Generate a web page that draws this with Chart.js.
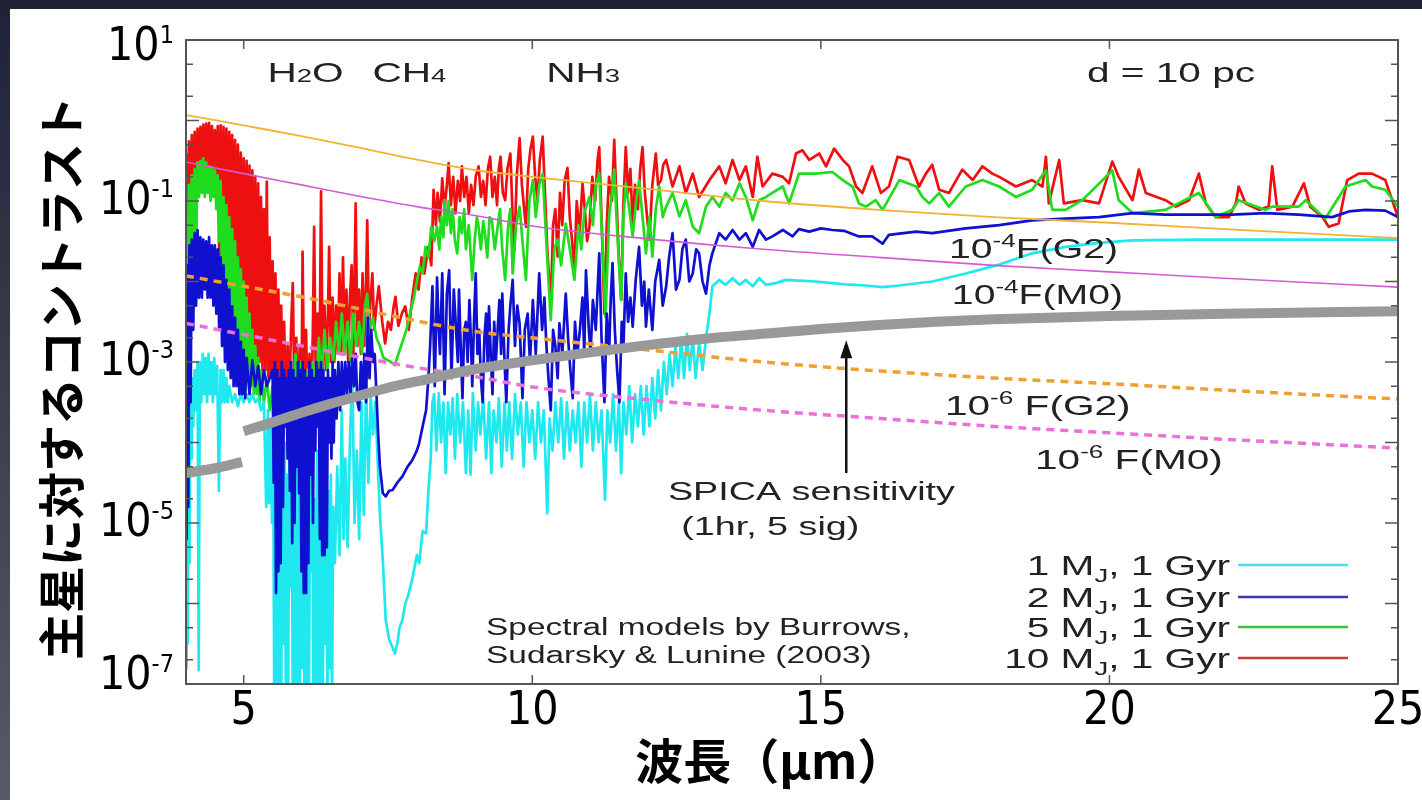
<!DOCTYPE html>
<html><head><meta charset="utf-8">
<script src="https://cdn.jsdelivr.net/npm/chart.js@4.4.0/dist/chart.umd.min.js"></script>
<style>
html,body{margin:0;padding:0;width:1422px;height:800px;overflow:hidden;background:linear-gradient(to bottom,#1f2235,#585a68);}
#panel{position:absolute;left:10px;top:9px;width:1412px;height:791px;background:#fff;}
#c{position:absolute;left:0;top:0;}
</style></head><body>
<div id="panel"></div>
<canvas id="c" width="1422" height="800"></canvas>
<script>
// ---------------- DATA (wavelength in µm, contrast stored as log10) ----------------
const xTickValues = [5, 10, 15, 20, 25];
const yLabelExponents = [1, -1, -3, -5, -7];
const yTickMantissas = [1, 2, 5];

const starWave = [4, 5, 6, 7, 8, 9, 10, 12, 14, 16, 18, 20, 22, 25];
const g2e4Log = [0.068, -0.061, -0.193, -0.337, -0.487, -0.615, -0.70, -0.85, -1.00, -1.11, -1.20, -1.27, -1.35, -1.46];
const m0e4Log = [-0.516, -0.66, -0.80, -0.94, -1.07, -1.18, -1.31, -1.47, -1.60, -1.70, -1.80, -1.88, -1.96, -2.07];
const g2e6Log = [-1.93, -2.06, -2.19, -2.34, -2.49, -2.62, -2.70, -2.85, -3.00, -3.11, -3.20, -3.27, -3.35, -3.46];
const m0e6Log = [-2.52, -2.66, -2.80, -2.94, -3.07, -3.18, -3.31, -3.47, -3.60, -3.70, -3.80, -3.88, -3.96, -4.07];

const spicaWaveA = [4.0, 4.5, 4.97];
const spicaLogA = [-4.38, -4.32, -4.24];
const spicaWaveB = [5.0, 5.5, 6, 6.5, 7, 7.5, 8, 9, 10, 11, 12, 13, 14, 15, 16, 17, 18, 20, 22, 25];
const spicaLogB = [-3.86, -3.75, -3.63, -3.52, -3.42, -3.32, -3.24, -3.09, -2.98, -2.88, -2.79, -2.71, -2.65, -2.59, -2.54, -2.50, -2.47, -2.43, -2.40, -2.37];

// 10 MJ, 1 Gyr  [wavelength, log10 contrast]
const spec10MJ = [[4.000,-0.41],[4.025,-1.5],[4.050,-0.26],[4.075,-1.4],[4.100,-0.18],[4.125,-1.6],[4.150,-0.14],[4.175,-1.3],[4.200,-0.10],[4.225,-0.8],[4.250,-0.08],[4.275,-0.75],[4.300,-0.05],[4.325,-0.8],[4.350,-0.04],[4.375,-0.7],[4.400,-0.03],[4.425,-0.8],[4.450,-0.07],[4.475,-0.85],[4.500,-0.12],[4.525,-0.8],[4.550,-0.07],[4.575,-1.7],[4.600,-0.06],[4.625,-1.8],[4.650,-0.08],[4.675,-1.9],[4.700,-0.10],[4.725,-2.0],[4.750,-0.14],[4.775,-2.1],[4.800,-0.18],[4.825,-2.2],[4.850,-0.24],[4.875,-2.3],[4.900,-0.30],[4.925,-2.4],[4.950,-0.40],[4.975,-2.5],[5.000,-0.47],[5.025,-2.6],[5.050,-0.50],[5.075,-2.7],[5.100,-0.56],[5.125,-2.8],[5.150,-0.62],[5.175,-2.9],[5.200,-0.70],[5.225,-3.0],[5.250,-0.78],[5.275,-3.0],[5.300,-0.95],[5.325,-3.1],[5.350,-1.1],[5.375,-3.1],[5.400,-0.76],[5.425,-3.2],[5.450,-1.45],[5.475,-3.2],[5.500,-1.75],[5.525,-3.3],[5.550,-1.9],[5.575,-3.3],[5.600,-2.1],[5.625,-3.4],[5.650,-2.3],[5.675,-3.4],[5.700,-2.5],
[5.73,-3.5],[5.76,-2.8],[5.79,-3.4],[5.82,-2.6],[5.85,-2.02],[5.88,-3.5],[5.91,-2.7],[5.94,-3.6],[5.97,-2.8],[6.00,-3.6],[6.02,-1.63],[6.05,-3.6],[6.08,-2.6],[6.11,-3.7],[6.14,-2.9],[6.17,-3.8],[6.20,-2.5],[6.22,-1.32],[6.25,-3.4],[6.28,-2.4],[6.31,-3.3],[6.34,-0.88],[6.37,-3.2],[6.40,-2.3],[6.43,-3.1],[6.46,-2.4],[6.48,-1.57],[6.51,-3.0],[6.54,-2.2],[6.57,-3.0],[6.60,-2.3],[6.63,-2.9],[6.66,-1.9],[6.69,-2.9],[6.72,-1.7],[6.75,-2.9],[6.78,-2.1],[6.81,-3.0],[6.84,-2.2],[6.87,-1.8],[6.90,-2.9],[6.94,-1.03],[6.97,-2.8],[7.00,-2.1],[7.03,-2.9],[7.06,-1.9],[7.09,-2.8],[7.12,-2.0],[7.14,-1.24],[7.17,-2.6],[7.20,-2.2],[7.23,-1.9],[7.26,-2.6],[7.30,-2.3],[7.34,-2.06],[7.40,-2.5],[7.45,-2.77],[7.50,-2.5],[7.55,-2.6],[7.60,-2.3],[7.63,-2.19],[7.68,-2.55],[7.74,-2.4],[7.80,-2.31],[7.86,-2.6],[7.92,-2.2],[7.98,-1.9],[8.03,-2.1],[8.08,-1.7],[8.13,-1.9],
[8.20,-1.57],[8.25,-1.8],[8.29,-0.86],[8.33,-1.3],[8.36,-0.9],[8.40,-1.25],[8.44,-0.72],[8.48,-1.1],[8.52,-0.8],[8.55,-0.53],[8.59,-1.05],[8.63,-0.7],[8.67,-1.15],[8.71,-0.75],[8.75,-1.0],[8.78,-0.57],[8.82,-0.95],[8.86,-0.7],[8.90,-1.15],[8.94,-0.8],[8.98,-1.05],[9.02,-0.7],[9.07,-0.57],[9.11,-0.95],[9.15,-0.75],[9.19,-1.05],[9.23,-0.6],[9.27,-0.45],[9.31,-0.95],[9.35,-0.7],[9.39,-1.05],[9.42,-0.6],[9.45,-0.45],[9.49,-0.9],[9.53,-0.99],[9.57,-0.6],[9.62,-0.41],[9.66,-1.2],[9.69,-1.61],[9.73,-0.7],[9.78,-0.22],[9.82,-0.8],[9.86,-1.1],[9.89,-1.32],[9.93,-0.6],[9.97,-0.35],[10.01,-0.2],[10.05,-0.7],[10.09,-0.99],[10.13,-0.5],[10.18,-0.2],[10.22,-0.9],[10.26,-1.6],[10.32,-2.31],[10.36,-1.3],[10.40,-1.1],[10.44,-1.69],[10.48,-0.9],[10.52,-1.3],[10.56,-0.75],[10.61,-0.59],[10.65,-1.2],[10.69,-1.5],[10.73,-1.86],[10.77,-1.0],[10.82,-1.4],[10.87,-0.78],[10.91,-1.1],[10.95,-1.5],[10.99,-1.32],[11.04,-0.7],[11.09,-1.0],[11.13,-0.5],[11.16,-0.33],[11.20,-1.2],[11.25,-2.4],[11.29,-1.3],[11.33,-0.7],[11.38,-1.0],[11.42,-0.24],[11.46,-1.0],[11.50,-1.7],[11.54,-2.23],[11.58,-1.0],[11.62,-0.33],[11.66,-0.9],[11.70,-0.6],[11.74,-1.32],[11.78,-0.8],[11.83,-1.1],[11.87,-0.6],[11.91,-0.33],[11.95,-0.9],[11.99,-1.2],[12.03,-1.48],[12.08,-0.8],[12.14,-0.41],[12.18,-0.8],[12.23,-0.74],[12.27,-0.55],[12.32,-0.49],
[12.43,-0.82],[12.55,-0.57],[12.66,-0.9],[12.78,-0.66],[12.89,-0.95],[13.07,-0.74],[13.24,-0.57],[13.35,-0.78],[13.47,-0.49],[13.59,-0.74],[13.70,-0.57],[13.82,-0.95],[13.90,-0.45],[13.99,-0.82],[14.16,-0.66],[14.34,-0.70],[14.45,-0.78],[14.57,-0.41],[14.68,-0.37],[14.80,-0.49],[14.97,-0.41],[15.09,-0.57],[15.23,-0.35],[15.38,-0.49],[15.49,-0.57],[15.61,-0.82],[15.72,-0.90],[15.89,-0.57],[16.04,-0.90],[16.18,-0.82],[16.33,-0.45],[16.53,-0.49],[16.70,-0.82],[16.82,-0.66],[16.93,-0.55],[17.05,-0.86],[17.22,-0.90],[17.45,-0.61],[17.63,-0.74],[17.80,-0.57],[17.97,-0.66],[18.09,-0.70],[18.38,-0.82],[18.66,-0.74],[18.84,-0.82],[18.90,-0.45],[18.95,-1.03],[19.13,-0.49],[19.21,-1.03],[19.53,-0.99],[19.82,-1.03],[20.05,-0.51],[20.16,-0.70],[20.40,-0.99],[20.51,-0.61],[20.63,-0.90],[20.97,-0.99],[21.15,-1.07],[21.38,-0.99],[21.55,-0.66],[21.67,-1.03],[21.84,-1.20],[22.07,-1.20],[22.19,-1.03],[22.24,-0.82],[22.36,-1.03],[22.59,-1.11],[22.76,-1.07],[22.82,-0.57],[22.91,-1.11],[23.17,-1.07],[23.37,-0.78],[23.48,-1.07],[23.69,-1.20],[23.80,-1.32],[23.97,-1.28],[24.12,-0.74],[24.32,-0.66],[24.55,-0.66],[24.78,-0.74],[24.90,-0.99],[25.00,-1.20]];

// 5 MJ, 1 Gyr
const spec5MJ = [[4.000,-1.15],[4.025,-1.9],[4.050,-0.80],[4.075,-1.9],[4.100,-0.68],[4.125,-1.8],[4.150,-0.60],[4.175,-1.6],[4.200,-0.52],[4.225,-0.95],[4.250,-0.50],[4.275,-0.9],[4.300,-0.47],[4.325,-0.95],[4.350,-0.52],[4.375,-0.9],[4.400,-0.57],[4.425,-1.0],[4.450,-0.58],[4.475,-0.95],[4.500,-0.62],[4.525,-1.1],[4.550,-0.68],[4.575,-1.5],[4.600,-0.75],[4.625,-2.0],[4.650,-0.95],[4.675,-2.3],[4.700,-1.05],[4.725,-2.5],[4.750,-1.2],[4.775,-2.6],[4.800,-1.35],[4.825,-2.7],[4.850,-1.5],[4.875,-2.8],[4.900,-1.7],[4.925,-2.9],[4.950,-1.85],[4.975,-3.0],[5.000,-2.0],[5.025,-3.1],[5.050,-2.2],[5.075,-3.2],[5.100,-2.4],[5.125,-3.3],[5.150,-2.6],[5.175,-3.4],[5.200,-2.8],[5.225,-3.4],[5.250,-2.95],[5.275,-3.5],[5.300,-3.1],
[5.35,-3.5],[5.40,-3.2],[5.45,-3.6],[5.50,-3.3],[5.55,-3.8],[5.60,-3.2],[5.65,-3.6],[5.70,-3.3],[5.75,-3.7],[5.80,-3.1],[5.85,-3.5],[5.90,-2.9],[5.95,-3.6],[6.00,-3.0],[6.05,-3.7],[6.10,-3.1],[6.15,-4.2],[6.20,-3.0],[6.25,-3.4],[6.30,-2.7],[6.35,-3.2],[6.40,-2.6],[6.45,-3.1],[6.50,-2.7],[6.55,-3.0],[6.60,-2.5],[6.65,-2.9],[6.70,-2.4],[6.75,-2.9],[6.80,-2.5],[6.85,-3.0],[6.90,-2.4],[6.95,-2.8],[7.00,-2.5],[7.05,-2.9],[7.10,-2.3],[7.14,-2.15],[7.18,-2.6],[7.24,-2.45],[7.30,-2.7],[7.36,-2.8],[7.42,-2.95],[7.48,-2.97],[7.55,-3.0],[7.62,-3.04],[7.68,-2.9],[7.75,-2.75],[7.82,-2.6],[7.88,-2.4],[7.95,-2.2],[8.00,-2.0],[8.05,-1.82],[8.10,-1.9],
[8.15,-1.57],[8.20,-1.7],[8.25,-1.32],[8.30,-1.5],[8.35,-1.32],[8.39,-1.6],[8.42,-1.2],[8.46,-1.45],[8.48,-0.99],[8.52,-1.3],[8.55,-1.0],[8.59,-1.4],[8.62,-1.1],[8.66,-1.5],[8.70,-1.65],[8.74,-1.2],[8.78,-1.4],[8.82,-1.1],[8.85,-1.6],[8.90,-1.3],[8.96,-1.98],[9.00,-1.5],[9.04,-1.2],[9.07,-1.32],[9.11,-1.6],[9.15,-1.25],[9.18,-1.4],[9.22,-1.7],[9.26,-1.2],[9.30,-1.24],[9.35,-1.6],[9.40,-1.32],[9.44,-1.1],[9.48,-1.6],[9.53,-1.98],[9.58,-1.32],[9.62,-1.1],[9.66,-1.9],[9.72,-1.3],[9.78,-1.07],[9.83,-1.5],[9.89,-1.98],[9.95,-1.0],[10.01,-0.74],[10.06,-1.2],[10.12,-0.8],[10.18,-0.66],[10.25,-1.6],[10.32,-2.48],[10.38,-1.6],[10.44,-1.48],[10.50,-1.8],[10.58,-1.28],[10.65,-1.6],[10.73,-1.98],[10.80,-1.3],[10.85,-1.6],[10.90,-1.15],[10.99,-0.95],[11.05,-1.3],[11.10,-0.8],[11.16,-0.66],[11.22,-1.6],[11.27,-2.44],[11.33,-1.2],[11.38,-0.9],[11.42,-0.61],[11.48,-1.5],[11.54,-2.23],[11.58,-1.2],[11.62,-0.78],[11.68,-1.1],[11.74,-1.44],[11.80,-1.0],[11.85,-0.74],[11.91,-1.2],[11.97,-1.65],[12.03,-1.2],[12.08,-1.69],[12.14,-1.1],[12.20,-0.82],[12.26,-1.2],[12.32,-1.07],
[12.43,-0.90],[12.55,-1.19],[12.66,-0.99],[12.78,-1.32],[12.89,-1.40],[13.01,-1.07],[13.12,-0.95],[13.24,-1.07],[13.35,-0.90],[13.47,-0.99],[13.59,-0.78],[13.70,-0.95],[13.82,-1.24],[13.93,-0.99],[14.05,-0.95],[14.16,-0.90],[14.34,-0.82],[14.45,-1.03],[14.51,-0.90],[14.62,-0.66],[14.91,-0.66],[15.20,-0.64],[15.38,-0.74],[15.55,-0.82],[15.66,-1.03],[15.78,-1.07],[15.95,-0.99],[16.07,-1.11],[16.36,-0.74],[16.65,-0.82],[16.76,-0.95],[16.88,-1.03],[17.05,-0.90],[17.22,-1.07],[17.51,-0.82],[17.80,-0.74],[18.09,-0.82],[18.38,-0.95],[18.66,-0.86],[18.90,-0.62],[19.01,-1.11],[19.24,-1.11],[19.53,-0.99],[20.05,-0.62],[20.16,-0.99],[20.40,-1.15],[20.97,-1.11],[21.55,-0.90],[21.84,-1.20],[22.13,-1.11],[22.24,-0.99],[22.70,-1.11],[22.82,-1.07],[23.28,-1.07],[23.40,-0.99],[23.74,-1.22],[24.09,-0.82],[24.44,-0.74],[24.55,-0.82],[24.78,-0.86],[25.00,-1.07]];

// 2 MJ, 1 Gyr
const spec2MJ = [[4.000,-2.0],[4.010,-5.2],[4.025,-1.8],[4.040,-4.8],[4.060,-1.55],[4.080,-3.5],[4.100,-1.48],[4.125,-2.6],[4.150,-1.40],[4.175,-2.3],[4.200,-1.36],[4.225,-2.2],[4.250,-1.45],[4.275,-2.2],[4.300,-1.48],[4.325,-2.1],[4.350,-1.50],[4.375,-2.2],[4.400,-1.45],[4.425,-2.2],[4.450,-1.55],[4.475,-2.3],[4.500,-1.55],[4.525,-2.4],[4.550,-1.60],[4.575,-2.6],[4.600,-1.70],[4.625,-2.8],[4.650,-1.80],[4.675,-3.0],[4.700,-1.98],[4.725,-3.1],[4.750,-2.10],[4.775,-3.2],[4.800,-2.31],[4.825,-3.3],[4.850,-2.45],[4.875,-3.3],[4.900,-2.60],[4.925,-3.4],[4.950,-2.75],[4.975,-3.4],[5.000,-2.85],[5.025,-3.45],[5.050,-2.95],[5.100,-3.4],[5.150,-2.98],[5.200,-3.3],[5.250,-3.05],[5.300,-3.4],[5.350,-3.1],[5.400,-3.3],[5.450,-3.2],
[5.50,-3.1],[5.52,-4.5],[5.54,-3.0],[5.56,-5.87],[5.58,-3.1],[5.60,-5.6],[5.62,-3.2],[5.64,-5.5],[5.66,-3.0],[5.68,-4.8],[5.70,-3.1],[5.72,-3.8],[5.74,-3.2],[5.76,-4.2],[5.78,-3.1],[5.80,-4.6],[5.82,-3.0],[5.84,-5.25],[5.86,-3.1],[5.88,-5.0],[5.90,-3.2],[5.92,-4.3],[5.94,-3.0],[5.96,-4.63],[5.98,-3.1],[6.00,-5.6],[6.02,-3.0],[6.04,-5.87],[6.06,-3.1],[6.08,-5.87],[6.10,-3.2],[6.12,-5.5],[6.14,-3.0],[6.16,-4.4],[6.18,-3.1],[6.20,-5.0],[6.22,-3.2],[6.24,-4.1],[6.26,-3.0],[6.28,-3.8],[6.30,-3.1],[6.32,-5.2],[6.34,-3.0],[6.36,-5.4],[6.38,-3.1],[6.40,-5.4],[6.42,-3.2],[6.44,-5.3],[6.46,-3.1],[6.48,-4.0],[6.50,-3.2],[6.52,-4.2],[6.54,-3.0],[6.56,-4.0],[6.58,-3.1],[6.61,-3.7],[6.64,-3.0],[6.67,-3.6],[6.70,-3.0],[6.73,-3.5],[6.76,-3.0],[6.79,-3.4],[6.82,-3.0],[6.85,-3.4],[6.88,-2.95],[6.91,-3.3],[6.94,-2.9],[6.97,-3.5],[7.00,-3.6],[7.03,-3.0],[7.06,-3.4],[7.09,-2.9],[7.12,-3.5],[7.15,-2.45],[7.18,-3.2],[7.21,-2.6],[7.24,-3.0],[7.27,-2.9],[7.30,-3.4],[7.33,-3.9],[7.36,-4.3],[7.41,-4.63],[7.46,-4.67],[7.52,-4.60],[7.58,-4.59],[7.66,-4.50],[7.75,-4.42],[7.84,-4.30],[7.92,-4.22],[8.00,-4.10],[8.04,-4.01],[8.10,-3.80],[8.16,-3.60],[8.20,-3.20],[8.23,-2.80],
[8.27,-2.06],[8.31,-3.3],[8.35,-1.95],[8.38,-2.6],[8.40,-2.9],[8.44,-1.9],[8.48,-3.4],[8.52,-2.15],[8.56,-1.86],[8.60,-3.2],[8.64,-2.1],[8.68,-2.6],[8.71,-3.0],[8.73,-2.1],[8.76,-2.8],[8.79,-3.45],[8.82,-2.6],[8.85,-2.5],[8.88,-3.0],[8.91,-2.23],[8.94,-2.8],[8.96,-3.3],[8.99,-2.5],[9.02,-1.9],[9.05,-2.9],[9.08,-2.6],[9.11,-3.2],[9.14,-3.5],[9.17,-2.7],[9.20,-2.4],[9.23,-3.1],[9.25,-2.31],[9.28,-2.9],[9.31,-3.4],[9.34,-2.5],[9.37,-2.97],[9.40,-2.6],[9.43,-2.23],[9.46,-2.9],[9.48,-2.15],[9.52,-3.0],[9.55,-3.5],[9.59,-2.6],[9.62,-2.3],[9.66,-1.98],[9.70,-2.8],[9.74,-2.3],[9.78,-2.52],[9.83,-3.45],[9.87,-2.6],[9.92,-2.4],[9.96,-3.0],[10.01,-2.23],[10.06,-2.9],[10.12,-1.9],[10.17,-2.6],[10.21,-2.2],[10.24,-2.73],[10.28,-3.2],[10.32,-3.6],[10.36,-2.6],[10.40,-2.8],[10.44,-3.2],[10.47,-2.52],[10.52,-2.9],[10.58,-2.15],[10.62,-2.7],[10.66,-3.1],[10.70,-3.45],[10.74,-2.5],[10.78,-2.9],[10.82,-2.64],[10.87,-2.2],[10.90,-2.9],[10.93,-1.86],[10.98,-2.6],[11.01,-2.9],[11.05,-2.23],[11.10,-2.6],[11.16,-1.65],[11.20,-2.7],[11.25,-3.5],[11.29,-2.4],[11.33,-2.9],[11.36,-2.2],[11.39,-1.77],[11.43,-2.6],[11.47,-3.1],[11.51,-3.5],[11.55,-2.5],[11.58,-2.8],[11.62,-1.9],[11.66,-2.5],[11.70,-2.2],[11.74,-2.56],[11.79,-2.0],[11.85,-1.57],[11.90,-2.3],[11.94,-2.0],[11.97,-2.56],[12.02,-2.1],[12.08,-2.6],[12.13,-2.0],[12.20,-1.73],[12.26,-2.3],[12.32,-2.06],[12.37,-1.7],[12.43,-1.4],[12.49,-2.1],[12.55,-1.98],[12.60,-1.6],[12.66,-1.48],[12.72,-2.0],[12.78,-1.9],[12.84,-1.6],[12.89,-1.65],[12.95,-2.0],[13.01,-2.15],[13.07,-1.8],[13.12,-1.65],
[13.24,-1.40],[13.35,-1.48],[13.47,-1.36],[13.59,-1.48],[13.70,-1.40],[13.82,-1.57],[13.93,-1.36],[14.05,-1.48],[14.16,-1.44],[14.34,-1.36],[14.51,-1.44],[14.62,-1.35],[14.80,-1.38],[15.00,-1.34],[15.20,-1.36],[15.40,-1.37],[15.66,-1.44],[15.89,-1.44],[16.07,-1.53],[16.18,-1.42],[16.65,-1.38],[16.93,-1.40],[17.51,-1.34],[18.09,-1.30],[18.66,-1.24],[19.24,-1.22],[19.82,-1.20],[20.40,-1.15],[20.97,-1.17],[21.55,-1.17],[22.13,-1.17],[22.70,-1.15],[23.28,-1.17],[23.86,-1.20],[24.15,-1.13],[24.44,-1.11],[24.78,-1.12],[25.00,-1.20]];

// 1 MJ, 1 Gyr
const spec1MJ = [[4.000,-3.4],[4.010,-6.8],[4.020,-3.3],[4.030,-6.5],[4.045,-3.3],[4.060,-5.5],[4.075,-3.3],[4.090,-4.2],[4.100,-3.2],[4.125,-3.8],[4.150,-3.1],[4.175,-3.6],[4.200,-3.0],[4.220,-6.83],[4.240,-3.0],[4.265,-3.5],[4.290,-2.9],[4.315,-3.4],[4.340,-2.95],[4.365,-3.5],[4.390,-2.9],[4.415,-3.4],[4.440,-3.0],[4.465,-3.5],[4.490,-2.95],[4.515,-3.4],[4.540,-3.05],[4.570,-4.6],[4.600,-3.1],[4.625,-3.5],[4.650,-3.1],[4.675,-3.5],[4.700,-3.2],[4.725,-3.5],[4.750,-3.3],[4.800,-3.5],[4.850,-3.4],[4.900,-3.55],[4.950,-3.4],[5.000,-3.5],[5.050,-3.4],[5.100,-3.5],[5.150,-3.4],[5.200,-3.5],[5.250,-3.45],[5.300,-3.6],[5.350,-3.5],[5.390,-4.8],[5.420,-3.6],[5.440,-4.75],[5.470,-3.8],
[5.49,-5.0],[5.51,-3.9],[5.53,-7.3],[5.55,-4.2],[5.57,-7.3],[5.59,-3.8],[5.61,-7.3],[5.63,-4.5],[5.65,-7.3],[5.67,-3.72],[5.69,-6.5],[5.71,-4.0],[5.73,-7.3],[5.75,-4.4],[5.77,-7.3],[5.79,-4.1],[5.81,-5.8],[5.83,-3.9],[5.85,-7.3],[5.87,-4.8],[5.89,-7.3],[5.91,-4.0],[5.93,-7.3],[5.95,-4.5],[5.97,-7.3],[5.99,-3.95],[6.01,-6.8],[6.03,-4.3],[6.05,-7.3],[6.07,-4.6],[6.09,-7.3],[6.11,-4.0],[6.13,-7.3],[6.15,-4.4],[6.17,-5.6],[6.19,-4.0],[6.21,-7.3],[6.23,-4.7],[6.25,-7.3],[6.27,-4.1],[6.29,-7.0],[6.31,-4.5],[6.33,-7.3],[6.35,-4.8],[6.37,-7.3],[6.39,-4.2],[6.41,-6.5],[6.43,-4.3],[6.45,-7.3],[6.47,-4.6],[6.49,-6.8],[6.51,-4.4],[6.53,-7.3],[6.55,-4.8],[6.58,-5.5],[6.62,-4.3],[6.66,-5.4],[6.70,-3.6],[6.73,-5.2],[6.76,-4.2],[6.80,-5.3],[6.84,-4.0],[6.88,-3.06],[6.92,-5.0],[6.96,-4.1],[7.00,-5.2],[7.04,-3.5],[7.08,-4.9],[7.12,-3.27],[7.16,-4.5],[7.20,-3.4],[7.24,-3.9],[7.28,-3.5],[7.32,-4.2],[7.36,-4.9],[7.41,-5.46],[7.46,-6.2],[7.52,-6.45],[7.57,-6.53],[7.62,-6.62],[7.66,-6.5],[7.70,-6.3],[7.75,-6.2],[7.80,-6.0],[7.85,-5.9],[7.92,-5.7],[8.00,-5.4],[8.04,-5.5],[8.10,-5.1],[8.16,-5.13],[8.20,-4.6],[8.24,-4.2],[8.27,-3.5],
[8.30,-3.4],[8.34,-4.1],[8.38,-3.39],[8.42,-4.0],[8.46,-3.5],[8.50,-4.38],[8.54,-3.5],[8.58,-3.9],[8.62,-3.45],[8.66,-4.2],[8.70,-3.4],[8.75,-4.0],[8.80,-3.5],[8.85,-4.38],[8.89,-3.6],[8.93,-4.4],[8.97,-3.39],[9.02,-4.1],[9.06,-3.5],[9.10,-3.9],[9.15,-3.45],[9.20,-4.2],[9.25,-3.5],[9.29,-4.38],[9.33,-3.6],[9.38,-4.0],[9.42,-3.45],[9.47,-4.3],[9.52,-3.5],[9.56,-4.1],[9.60,-3.5],[9.65,-4.2],[9.70,-3.4],[9.75,-3.9],[9.80,-3.5],[9.85,-4.3],[9.90,-3.5],[9.95,-4.0],[10.00,-3.6],[10.05,-4.2],[10.10,-3.5],[10.15,-4.0],[10.20,-3.6],[10.26,-4.88],[10.30,-3.7],[10.35,-4.1],[10.40,-3.5],[10.45,-4.0],[10.50,-3.45],[10.55,-4.2],[10.60,-3.5],[10.65,-4.1],[10.70,-3.6],[10.75,-4.0],[10.80,-3.5],[10.85,-4.3],[10.90,-3.5],[10.95,-4.0],[11.00,-3.4],[11.05,-4.1],[11.10,-3.5],[11.15,-4.0],[11.20,-3.6],[11.26,-4.71],[11.30,-3.6],[11.35,-4.0],[11.40,-3.4],[11.45,-4.1],[11.50,-3.5],[11.54,-4.38],[11.58,-3.5],[11.63,-3.9],[11.68,-3.3],[11.73,-4.0],[11.78,-3.4],[11.83,-3.8],[11.88,-3.3],[11.93,-3.9],[11.98,-3.3],[12.03,-3.8],[12.08,-3.2],[12.13,-3.7],[12.18,-3.1],[12.23,-3.6],[12.28,-3.0],[12.33,-3.4],[12.38,-2.9],[12.43,-3.3],[12.48,-2.8],[12.53,-3.2],[12.58,-2.7],[12.63,-3.2],[12.68,-2.65],[12.73,-3.1],[12.78,-2.7],[12.83,-3.2],[12.89,-2.75],[12.95,-3.1],[13.01,-2.7],[13.07,-2.4],[13.12,-2.06],[13.24,-1.98],[13.35,-2.04],[13.47,-1.96],[13.59,-2.04],[13.70,-1.98],[13.82,-2.06],[13.93,-1.96],[14.05,-2.04],[14.22,-2.02],[14.39,-1.98],[14.62,-1.99],[14.91,-2.00],[15.20,-2.02],[15.49,-2.04],[15.78,-2.05],[16.07,-2.07],[16.36,-2.05],[16.93,-2.0],[17.51,-1.9],[18.09,-1.79],[18.66,-1.65],[19.24,-1.57],[19.82,-1.52],[20.40,-1.49],[21.55,-1.48],[23.28,-1.48],[25.00,-1.48]];

const seriesLabels = ['1', '2', '5', '10'];
const seriesColors = ['#1fe9ef', '#1010d0', '#1fdc1f', '#ee1010'];
const legendColors = ['#4fdde6', '#3a3ab0', '#3cc43c', '#cc3a3a'];

// ---------------- helpers ----------------
const pairsToPts = p => p.map(([x, v]) => ({x: x, y: Math.pow(10, v)}));
const colsToPts = (xs, vs) => xs.map((x, i) => ({x: x, y: Math.pow(10, vs[i])}));

const FONT_PLOT = '"Liberation Sans", Arial, sans-serif';
const FONT_SLIDE = '"Liberation Sans Narrow", "DejaVu Sans Condensed", sans-serif';
const STRETCH = 1.45;

function drawRich(ctx, x, y, parts, align, sx, family, color) {
  ctx.save();
  ctx.translate(x, y);
  ctx.scale(sx, 1);
  ctx.fillStyle = color;
  ctx.textAlign = 'left';
  ctx.textBaseline = 'alphabetic';
  let total = 0;
  for (const p of parts) { ctx.font = p[1] + 'px ' + family; total += ctx.measureText(p[0]).width; }
  let cx = align === 'right' ? -total : (align === 'center' ? -total / 2 : 0);
  for (const p of parts) {
    ctx.font = p[1] + 'px ' + family;
    ctx.fillText(p[0], cx, p[2] || 0);
    cx += ctx.measureText(p[0]).width;
  }
  ctx.restore();
}

// annotation anchors (x in µm, y as log10 contrast) — left edge / baseline
const notes = [
  {x: 5.41, y: 0.478, parts: [['H', 28], ['2', 19], ['O', 28]]},
  {x: 7.23, y: 0.478, parts: [['CH', 28], ['4', 19]]},
  {x: 10.24, y: 0.478, parts: [['NH', 28], ['3', 19]]},
  {x: 19.61, y: 0.478, parts: [['d = 10 pc', 28]]},
  {x: 17.22, y: -1.708, parts: [['10', 27], ['-4', 18, -11], ['F(G2)', 27]]},
  {x: 17.27, y: -2.28, parts: [['10', 27], ['-4', 18, -11], ['F(M0)', 27]]},
  {x: 17.15, y: -3.66, parts: [['10', 28], ['-6', 18, -11], [' F(G2)', 28]]},
  {x: 18.71, y: -4.33, parts: [['10', 28], ['-6', 18, -11], [' F(M0)', 28]]},
  {x: 12.35, y: -4.71, parts: [['SPICA sensitivity', 26]]},
  {x: 12.58, y: -5.15, parts: [['(1hr, 5 sig)', 26]]},
  {x: 9.20, y: -6.39, parts: [['Spectral models by Burrows,', 23]]},
  {x: 9.20, y: -6.74, parts: [['Sudarsky & Lunine (2003)', 23]]}
];
const arrowNote = {x: 15.44, from: -4.38, to: -2.73};

const decor = {
  id: 'decor',
  afterDatasetsDraw(chart) {
    const ctx = chart.ctx, ca = chart.chartArea, xs = chart.scales.x, ys = chart.scales.y;
    ctx.save();
    ctx.strokeStyle = '#555';
    ctx.lineWidth = 2;
    ctx.strokeRect(ca.left, ca.top, ca.right - ca.left, ca.bottom - ca.top);
    ctx.lineWidth = 1.5;
    ctx.beginPath();
    for (const v of xTickValues) {
      const px = xs.getPixelForValue(v);
      if (px >= ca.right - 1) continue;
      ctx.moveTo(px, ca.bottom); ctx.lineTo(px, ca.bottom - 9);
      ctx.moveTo(px, ca.top); ctx.lineTo(px, ca.top + 9);
    }
    for (let e = -7; e <= 1; e++) {
      for (const m of yTickMantissas) {
        const v = m * Math.pow(10, e);
        if (v < 1e-7 || v > 10) continue;
        const py = ys.getPixelForValue(v);
        const len = m === 1 ? 13 : 7;
        ctx.moveTo(ca.left, py); ctx.lineTo(ca.left + len, py);
        ctx.moveTo(ca.right, py); ctx.lineTo(ca.right - len, py);
      }
    }
    ctx.stroke();
    for (const e of yLabelExponents) {
      let py = ys.getPixelForValue(Math.pow(10, e)) - 3;
      py = Math.max(ca.top + 4, Math.min(ca.bottom - 11, py));
      drawRich(ctx, ca.left - 12, py + 16, [['10', 46], [String(e), 25, -17]], 'right', 1, FONT_SLIDE, '#000');
    }
    for (const n of notes) {
      drawRich(ctx, xs.getPixelForValue(n.x), ys.getPixelForValue(Math.pow(10, n.y)), n.parts, 'left', STRETCH, FONT_PLOT, '#222');
    }
    const ax = xs.getPixelForValue(arrowNote.x);
    const ay0 = ys.getPixelForValue(Math.pow(10, arrowNote.from));
    const ay1 = ys.getPixelForValue(Math.pow(10, arrowNote.to));
    ctx.strokeStyle = '#111'; ctx.fillStyle = '#111'; ctx.lineWidth = 2.5;
    ctx.beginPath(); ctx.moveTo(ax, ay0); ctx.lineTo(ax, ay1 + 14); ctx.stroke();
    ctx.beginPath(); ctx.moveTo(ax, ay1); ctx.lineTo(ax - 6, ay1 + 18); ctx.lineTo(ax + 6, ay1 + 18); ctx.closePath(); ctx.fill();
    const rows = [ca.bottom - 119, ca.bottom - 87, ca.bottom - 57, ca.bottom - 26];
    for (let i = 0; i < 4; i++) {
      drawRich(ctx, ca.right - 168, rows[i] + 10, [[seriesLabels[i] + ' M', 28], ['J', 19, 7], [', 1 Gyr', 28]], 'right', STRETCH, FONT_PLOT, '#222');
      ctx.strokeStyle = legendColors[i]; ctx.lineWidth = 2.5;
      ctx.beginPath(); ctx.moveTo(ca.right - 160, rows[i]); ctx.lineTo(ca.right - 50, rows[i]); ctx.stroke();
    }
    ctx.restore();
  }
};

const specDataset = (pairs, color, order) => ({
  data: pairsToPts(pairs), borderColor: color, borderWidth: 2.7, pointRadius: 0,
  borderJoinStyle: 'round', tension: 0, clip: 0, order: order
});
const starDataset = (vals, color, width, dash, order) => ({
  data: colsToPts(starWave, vals), borderColor: color, borderWidth: width, pointRadius: 0,
  borderDash: dash, cubicInterpolationMode: 'monotone', clip: 0, order: order
});

new Chart(document.getElementById('c'), {
  type: 'line',
  data: {
    datasets: [
      {data: colsToPts(spicaWaveA, spicaLogA), borderColor: '#999', borderWidth: 10, pointRadius: 0, borderCapStyle: 'butt', cubicInterpolationMode: 'monotone', clip: 0, order: 0},
      {data: colsToPts(spicaWaveB, spicaLogB), borderColor: '#999', borderWidth: 10, pointRadius: 0, borderCapStyle: 'butt', cubicInterpolationMode: 'monotone', clip: 0, order: 0},
      starDataset(g2e6Log, '#f0a030', 3.5, [8, 6], 1),
      starDataset(m0e6Log, '#ec70d8', 3.5, [8, 6], 1),
      starDataset(g2e4Log, '#f2b232', 1.8, [], 2),
      starDataset(m0e4Log, '#d35cd3', 1.6, [], 2),
      specDataset(spec2MJ, seriesColors[1], 3),
      specDataset(spec1MJ, seriesColors[0], 4),
      specDataset(spec5MJ, seriesColors[2], 5),
      specDataset(spec10MJ, seriesColors[3], 6)
    ]
  },
  options: {
    responsive: false, animation: false, devicePixelRatio: 1,
    layout: {padding: {left: 0, right: 24, top: 40, bottom: 0}},
    plugins: {legend: {display: false}, tooltip: {enabled: false}},
    scales: {
      x: {
        type: 'linear', min: 4, max: 25, position: 'bottom',
        grid: {display: false, drawTicks: false}, border: {display: false},
        afterBuildTicks: s => { s.ticks = xTickValues.map(v => ({value: v})); },
        afterFit: s => { s.height = 116; s.paddingLeft = 0; s.paddingRight = 0; },
        ticks: {font: {family: FONT_SLIDE, size: 46}, color: '#000', padding: 0, maxRotation: 0, autoSkip: false, callback: v => String(v)},
        title: {display: true, text: '波長（μm）    ', color: '#000', font: {family: '"Noto Sans CJK JP"', size: 48, weight: 'bold'}, padding: {top: 0, bottom: 10}}
      },
      y: {
        type: 'logarithmic', min: 1e-7, max: 10, position: 'left',
        grid: {display: false, drawTicks: false}, border: {display: false},
        ticks: {display: false},
        afterFit: s => { s.width = 186; s.paddingTop = 0; s.paddingBottom = 0; },
        title: {display: true, text: '主星に対するコントラスト   ', color: '#000', font: {family: '"Noto Sans CJK JP"', size: 47, weight: 'bold'}, padding: {top: 33, bottom: 0}}
      }
    }
  },
  plugins: [decor]
});
</script>
</body></html>
